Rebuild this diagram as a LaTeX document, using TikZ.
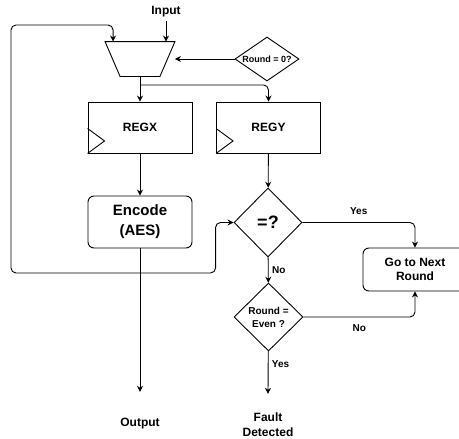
\documentclass[tikz,border=0pt]{standalone}
\usepackage{fontspec}
\setmainfont{Liberation Sans}
\usetikzlibrary{shapes.geometric,arrows.meta}

\newcommand{\sz}[2]{\fontsize{#1}{#2}\selectfont}
\tikzset{
  every node/.style={font=\bfseries\sz{12}{14}},
  small/.style={font=\bfseries\sz{10}{13}},
  arr/.style={-{Stealth[length=6pt,width=6pt,inset=2pt]}},
  reg/.style={draw, minimum width=104pt, minimum height=51pt, inner sep=0pt},
  dec/.style={draw, diamond, inner sep=0pt},
}

\begin{document}
\begin{tikzpicture}[x=1pt,y=-1pt,line width=0.9pt]
\useasboundingbox (0,0) rectangle (459,439);
\clip (0,0) rectangle (459,439);
% blocks
\node (In) at (166,12) {Input};
\node[minimum width=69pt, minimum height=34pt, inner sep=0pt] (Mux) at (140,59) {};
\draw (Mux.north west) -- (Mux.north east) -- ([xshift=-15pt]Mux.south east) -- ([xshift=15pt]Mux.south west) -- cycle;
\node[dec, minimum width=64pt, minimum height=44pt, aspect=1.45, font=\bfseries\sz{9}{11}] (Zero) at (267,59) {Round = 0?};
\node[reg] (RX) at (140,127.5) {REGX};
\node[reg] (RY) at (268.5,127.5) {REGY};
\draw (RX.south west) -- ++(17pt,12.5pt) -- ++(-17pt,12.5pt);
\draw (RY.south west) -- ++(17pt,12.5pt) -- ++(-17pt,12.5pt);
\node[reg, rounded corners=6pt, minimum height=52pt, align=center, font=\bfseries\sz{15}{20}] (Enc) at (140,222) {Encode\\(AES)};
\node[dec, minimum width=68pt, minimum height=69pt, font=\bfseries\sz{18}{20}] (Cmp) at (268,222.5) {=?};
\node[dec, small, minimum width=69pt, minimum height=68pt, align=center] (Even) at (268.5,317) {Round =\\Even ?};
\node[reg, rounded corners=6pt, minimum height=43pt, align=center] (Next) at (415,269.5) {Go to Next\\Round};
\node (Out) at (140,424) {Output};
\node[align=center, font=\bfseries\sz{12}{15}] (Fault) at (268,424.5) {Fault\\Detected};
\coordinate (Split) at (140,85);
\coordinate (Fb) at (140,273);
\coordinate (Loop) at (11,25);
% connectors
\draw[arr] (In.south) -- (In.south |- Mux.north);
\draw[arr] (Zero.west) -- (Mux.east);
\draw[arr] (Mux.south) -- (RX.north);
\draw[arr, rounded corners=5pt] (Split) -| (RY.north);
\draw[arr] (RX) -- (Enc);
\draw[arr] (RY) -- (Cmp);
\draw[arr] (Enc) -- ([yshift=23pt]Out.north);
\draw[arr, rounded corners=5pt] (Fb) -| (Loop) -| ([xshift=8pt]Mux.north west);
\draw[arr, rounded corners=5pt] (Fb) -| ([xshift=-18pt]Cmp.west) -- (Cmp.west);
\draw[arr, rounded corners=5pt] (Cmp.east) -| node[small, pos=0.25, above=4pt] {Yes} (Next.north);
\draw[arr] (Cmp) -- node[small, right] {No} (Even);
\draw[arr, rounded corners=5pt] (Even.east) -| node[small, pos=0.25, below=4pt] {No} (Next.south);
\draw[arr] (Even) -- node[small, pos=0.3, right] {Yes} ([yshift=15pt]Fault.north);
\end{tikzpicture}
\end{document}
